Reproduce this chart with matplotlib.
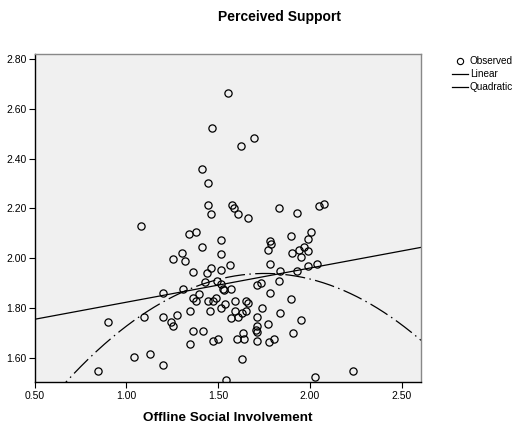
import numpy as np
import matplotlib
matplotlib.use("Agg")
import matplotlib.pyplot as plt
from matplotlib.lines import Line2D

# Observed data (Offline Social Involvement, Perceived Support)
offline_x = [1.556, 1.467, 1.695, 1.622, 1.413, 1.447, 1.447, 1.462, 1.578, 1.589,
             1.607, 1.662, 1.079, 1.340, 1.380, 1.516, 1.414, 1.832, 1.929, 2.049,
             2.076, 1.896, 2.007, 1.989, 1.783, 1.789, 1.769, 1.903, 1.940, 1.969,
             1.987, 1.949, 1.785, 1.838, 1.930, 1.987, 2.041, 1.304, 1.322, 1.518,
             1.565, 1.253, 1.362, 1.438, 1.460, 1.518, 1.431, 1.493, 1.518, 1.529,
             1.533, 1.572, 1.202, 1.311, 1.398, 1.362, 1.380, 1.446, 1.474, 1.489,
             1.536, 1.518, 1.591, 1.653, 1.660, 1.344, 1.456, 1.591, 1.653, 1.631,
             1.609, 1.569, 1.202, 1.278, 1.242, 1.253, 1.097, 0.902, 1.362, 1.417,
             1.344, 1.474, 1.500, 1.602, 1.642, 1.635, 1.711, 1.707, 1.711, 1.711,
             1.711, 1.042, 1.131, 1.202, 0.844, 1.632, 1.544, 1.714, 1.731, 1.832,
             1.783, 1.896, 1.740, 1.838, 1.952, 1.769, 1.907, 1.805, 1.778, 2.025,
             2.232]
support_y = [2.663, 2.523, 2.483, 2.452, 2.360, 2.301, 2.212, 2.176, 2.212, 2.202,
             2.176, 2.161, 2.130, 2.097, 2.104, 2.074, 2.045, 2.202, 2.180, 2.208,
             2.216, 2.088, 2.105, 2.076, 2.069, 2.056, 2.033, 2.020, 2.033, 2.044,
             2.029, 2.006, 1.979, 1.951, 1.951, 1.969, 1.979, 2.020, 1.990, 2.016,
             1.975, 1.997, 1.946, 1.942, 1.961, 1.955, 1.906, 1.910, 1.899, 1.877,
             1.871, 1.878, 1.860, 1.878, 1.855, 1.840, 1.830, 1.830, 1.830, 1.840,
             1.816, 1.800, 1.830, 1.830, 1.822, 1.787, 1.787, 1.787, 1.787, 1.779,
             1.763, 1.759, 1.766, 1.772, 1.744, 1.727, 1.766, 1.743, 1.710, 1.710,
             1.656, 1.667, 1.675, 1.675, 1.675, 1.702, 1.728, 1.712, 1.704, 1.667,
             1.766, 1.604, 1.615, 1.571, 1.547, 1.595, 1.512, 1.895, 1.902, 1.911,
             1.860, 1.835, 1.802, 1.780, 1.751, 1.735, 1.702, 1.675, 1.664, 1.523,
             1.547]

# Fitted curves (coefficients)
linear_coef = [1.687, 0.137]            # b0, b1
quadratic_coef = [0.797, 1.302, -0.371]  # b0, b1, b2

x_ticks = [0.50, 1.00, 1.50, 2.00, 2.50]
y_ticks = [1.60, 1.80, 2.00, 2.20, 2.40, 2.60, 2.80]
x_lim = (0.5, 2.605)
y_lim = (1.503, 2.819)

plt.rcParams['font.family'] = ['Liberation Sans', 'DejaVu Sans']

fig = plt.figure(figsize=(5.16, 4.26), dpi=100)
ax = fig.add_axes([0.0669, 0.1026, 0.816 - 0.0669, 0.8732 - 0.1026])
ax.set_facecolor('#f0f0f0')

ax.plot(offline_x, support_y, linestyle='none', marker='o', markersize=5.2,
        markerfacecolor='none', markeredgecolor='black', markeredgewidth=0.9,
        zorder=3)

xs = np.linspace(x_lim[0], x_lim[1], 400)
lin = linear_coef[0] + linear_coef[1] * xs
quad = quadratic_coef[0] + quadratic_coef[1] * xs + quadratic_coef[2] * xs ** 2
ax.plot(xs, lin, color='black', linewidth=0.9, zorder=2)
ax.plot(xs, quad, color='black', linewidth=0.9, dashes=(16, 3.5, 1.2, 3.5), zorder=2)

ax.set_xlim(*x_lim)
ax.set_ylim(*y_lim)
ax.set_xticks(x_ticks)
ax.set_yticks(y_ticks)
ax.set_xticklabels([f"{v:.2f}" for v in x_ticks])
ax.set_yticklabels([f"{v:.2f}" for v in y_ticks])
ax.tick_params(direction='out', length=4, width=0.8, labelsize=7.5, pad=2,
               colors='black')
ax.tick_params(axis='y', pad=1.5)

for side in ['left', 'bottom']:
    ax.spines[side].set_color('black')
    ax.spines[side].set_linewidth(1.0)
for side in ['right', 'top']:
    ax.spines[side].set_color('#888888')
    ax.spines[side].set_linewidth(1.0)

ax.set_xlabel('Offline Social Involvement', fontsize=9.7, fontweight='bold', labelpad=8.5)
fig.text(280 / 516, 1 - 16.5 / 426, 'Perceived Support', fontsize=10, fontweight='bold',
         ha='center', va='center')

handles = [
    Line2D([], [], linestyle='none', marker='o', markersize=4.5, markerfacecolor='none',
           markeredgecolor='black', markeredgewidth=0.8),
    Line2D([], [], color='black', linewidth=0.9),
    Line2D([], [], color='black', linewidth=0.9),
]
fig.legend(handles, ['Observed', 'Linear', 'Quadratic'], loc='upper left',
           bbox_to_anchor=(452 / 516, 1 - 56 / 426), frameon=False, fontsize=7.2,
           handlelength=1.6, handletextpad=0.2, labelspacing=0.32, borderaxespad=0,
           borderpad=0)

fig.savefig('out.png', dpi=100)
